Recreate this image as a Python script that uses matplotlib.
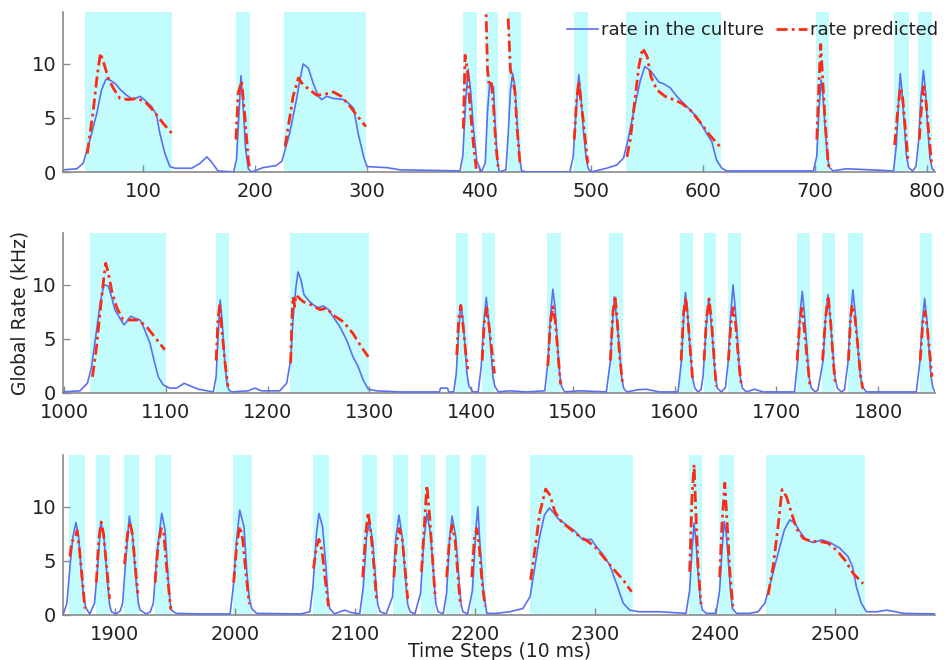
import numpy as np
import matplotlib
matplotlib.use("Agg")
import matplotlib.pyplot as plt
from matplotlib.lines import Line2D

plt.rcParams['font.family'] = ['DejaVu Sans']

# ---------------- data ----------------
# panel 1 (time steps 29 - 807)
p1_blue = [(29,0.2),(41,0.3),(46.6,0.8),(52.7,3.0),(58.7,5.4),(63,7.6),(67,8.6),(70.5,8.5),(75,8.2),(79.5,7.65),
 (85.4,7.1),(91,6.7),(97.3,7.0),(101,6.7),(107.7,6.05),(112,5.3),(115,3.6),(119.6,1.7),(124,0.5),(128.6,0.35),
 (143.5,0.35),(151,0.8),(157,1.4),(161,0.95),(167,0.1),
 (181,0.0),(183.5,1.2),(185.5,5.0),(187.5,8.9),(189.5,6.0),(191.5,2.2),(194,0.3),(197,0.0),
 (207,0.4),(219,0.6),(224,1.0),(231,3.6),(237,6.7),(240,8.5),(243,10.0),(247.6,9.6),(252,8.2),(256.5,7.0),
 (259.5,6.7),(264,7.0),(270,6.8),(279,6.7),(283,6.4),(288,5.9),(292,3.6),(297,1.4),(300,0.5),(318,0.4),
 (329.5,0.2),(383,0.1),
 (385.5,1.5),(388,6.5),(390.3,9.5),(392.5,7.5),(395,4.0),(398,1.0),(402,0.0),
 (405.5,0.8),(407.5,5.5),(409.5,8.3),(411,8.0),(412.8,7.9),(414.5,4.0),(416.5,1.0),(418,0.0),(424,0.2),
 (426,3.5),(428,7.5),(430,9.1),(432,7.9),(434,4.5),(436,1.5),(438,0.1),(443,0),
 (481,0),(484,1.4),(486.5,5.5),(489,9.0),(491,7.0),(493,4.0),(495.5,1.3),(497.6,0.3),(500,0),
 (514,0.35),(523,0.65),(529,1.3),(533,3.0),(539,6.05),(544,8.5),(548,9.75),(552.7,9.4),(557,8.8),(560.7,8.3),
 (564,8.2),(570.5,7.8),(576.5,7.0),(585.4,6.05),(594.4,5.1),(603,3.6),(607.8,2.8),(612,1.1),(616.7,0.35),(621,0.1),
 (698.5,0.1),(701.5,1.5),(703.5,6.0),(705.4,8.5),(707,7.0),(709,4.0),(711,1.3),(713,0.4),(716,0.1),(728,0.3),
 (770,0.1),(772.5,2.5),(774.5,6.5),(776,9.1),(777.5,7.5),(779.5,4.5),(781.5,1.5),(783.5,0.4),(787,0.1),
 (790,0.5),(792.5,3.0),(794.5,7.0),(796.7,9.4),(798.5,7.5),(800.5,4.0),(802.5,1.3),(804.5,0.3),(807,0.1)]

p1_red = [
 [(50.3,1.7),(55.6,5.7),(59,8.8),(62,11.0),(66,9.75),(69,8.7),(73.5,7.75),(79.5,6.8),(87,6.7),(94.4,6.8),(102,6.5),(109,5.7),(118,4.5),(125.6,3.6)],
 [(183,3.0),(185,7.3),(188,8.4),(191,5.1),(194,1.1),(195.5,0.2)],
 [(226.8,2.35),(229.7,4.2),(234,7.0),(238.7,8.7),(243,8.05),(249,7.6),(255,7.1),(262.5,7.2),(270,7.4),(277,7.0),(285,6.05),(292,5.1),(299,4.2)],
 [(386,4.0),(387.5,10.8),(389.5,9.5),(392,6.0),(395,2.5),(397.5,0.3)],
 [(406,16),(407.5,9.5),(409,8.0),(411,8.2),(413,6.0),(415,2.5),(417,0.5)],
 [(426,14.2),(428,9.5),(430,8.5),(432,7.5),(434,4.0),(436.5,0.8)],
 [(485,3.0),(487,6.5),(489,8.4),(491,6.5),(493,4.8),(497,0.8)],
 [(532,1.4),(535,3.0),(538,5.7),(542.6,9.75),(546,11.45),(550,10.7),(553.5,8.8),(558.7,7.6),(566,7.0),(573.5,6.7),(581,6.35),(588.4,5.75),(597,4.65),(606,3.4),(615,2.35)],
 [(701.5,3.0),(703.5,8.5),(705,11.8),(706.5,9.0),(709,4.5),(711.5,1.0),(712.5,0.3)],
 [(771,2.5),(774,6.0),(776,7.8),(778,7.0),(780.5,4.0),(783,1.0)],
 [(793,3.0),(795.5,7.0),(797,7.9),(799,6.5),(801.5,3.5),(804,0.7)]]

p1_spans = [(48,126),(183,195.5),(226,299),(386,398),(406,417),(426,437.5),(485,497),(531,616),(701,712.5),(770.5,784),(792,804.5)]

# panel 2 (time steps 999 - 1856)
p2_blue = [(999,0.1),(1015.7,0.2),(1023,0.9),(1027,2.4),(1032,5.8),(1036,8.6),(1039.3,10.0),(1043.5,9.9),(1047,8.8),
 (1050,7.7),(1055,6.9),(1059,6.3),(1061.6,6.6),(1065.5,7.1),(1070,6.9),(1074.7,6.75),(1078.6,6.0),(1084.5,4.6),
 (1088.4,3.05),(1092.6,1.5),(1097.5,0.75),(1104,0.45),(1110.7,0.45),(1118,0.9),(1125.4,0.6),(1132,0.35),(1146.7,0.1),
 (1149.5,1.5),(1151.5,5.5),(1153.5,8.6),(1155.5,6.5),(1157.5,3.5),(1160,1.0),(1162,0.3),(1164.5,0.1),
 (1181,0.2),(1187.6,0.45),(1194,0.2),(1212,0.2),(1218.8,0.9),(1222.7,3.05),(1225,6.75),(1228,9.85),(1230,11.2),
 (1232.8,10.5),(1235.8,9.1),(1240,8.6),(1245,8.15),(1249.8,7.9),(1254.7,8.05),(1259.6,7.75),(1264.5,7.05),(1271,6.15),
 (1277.7,4.9),(1284,3.35),(1289,2.45),(1294,1.2),(1299,0.35),(1307,0.2),(1330,0.1),(1369,0.1),(1370,0.45),(1377,0.45),
 (1378,0.1),(1383,0.1),
 (1385.5,1.8),(1388,6.0),(1390,8.15),(1392,6.8),(1394,4.5),(1396,1.8),(1398,0.6),(1402,0.1),
 (1407,0.1),(1410,2.4),(1412.5,6.5),(1415,8.85),(1417,7.0),(1419,4.5),(1421.5,1.5),(1423.5,0.6),(1427,0.1),(1438,0.2),
 (1454,0.1),(1472.5,0.2),
 (1475.7,3.0),(1478,7.0),(1480.4,9.6),(1482.5,8.0),(1484.6,5.0),(1487,1.8),(1489,0.6),(1492,0.1),(1507,0.2),(1533,0.1),
 (1537,3.0),(1539,6.5),(1541,8.9),(1543,7.0),(1545.5,4.5),(1548,1.5),(1550,0.45),(1553,0.1),(1564,0.3),(1572,0.35),
 (1585,0.1),(1603.5,0.1),
 (1606.8,3.0),(1609,7.0),(1610.7,9.3),(1612.5,7.8),(1615,4.5),(1617.5,1.5),(1620,0.45),(1623,0.1),
 (1626,0.3),(1628,1.5),(1631,6.0),(1633.6,8.7),(1635.5,7.0),(1637.8,4.5),(1640,1.6),(1642,0.45),(1646,0.1),
 (1650,0.5),(1652.6,2.75),(1655,7.0),(1657.5,10.0),(1659.5,8.0),(1661.8,5.0),(1664,1.8),(1666.7,0.45),(1670.6,0.1),
 (1678.7,0.35),(1687,0.1),(1718,0.1),
 (1721,3.0),(1723.5,7.5),(1725.6,9.4),(1727.5,7.5),(1729.5,5.0),(1732,1.6),(1734.4,0.45),(1738.6,0.1),
 (1741,0.3),(1746,3.0),(1748.5,7.0),(1750.8,9.1),(1753,7.0),(1755,4.5),(1757.5,1.6),(1760,0.45),(1764,0.1),
 (1767,0.3),(1770.4,2.75),(1773,7.0),(1775.3,9.55),(1777.5,7.5),(1779.6,5.0),(1782,2.0),(1784.5,0.6),(1788.5,0.1),
 (1837.6,0.1),(1841,2.75),(1843.5,6.5),(1845.8,8.75),(1847.8,7.0),(1849.7,4.5),(1852,1.6),(1854,0.45),(1856,0.1)]

p2_red = [
 [(1028,1.5),(1032,4.3),(1036,8.0),(1039.3,10.8),(1041,12.0),(1043.5,11.1),(1047,9.4),(1052,7.85),(1058,6.8),(1065,6.75),(1073,6.75),(1081,6.15),(1089,5.2),(1099,4.0)],
 [(1149.5,3.0),(1151.5,7.0),(1153,8.1),(1155,6.0),(1158,3.0),(1161,0.6)],
 [(1222.7,2.75),(1224,6.75),(1225,8.9),(1226.7,8.0),(1228,9.05),(1235,8.45),(1243,8.15),(1251.5,7.7),(1258,7.85),(1264.5,7.2),(1274.4,6.6),(1284,5.5),(1292,4.3),(1299,3.35)],
 [(1386,3.5),(1388,7.0),(1390,8.1),(1392.5,6.0),(1395,3.5),(1397,2.2)],
 [(1411,3.0),(1413,6.5),(1415.5,7.85),(1418,6.0),(1421,3.5),(1423,1.8)],
 [(1475.5,2.5),(1478,6.5),(1480.5,8.0),(1483,6.5),(1486,3.0),(1488,0.8)],
 [(1537,3.0),(1539.5,7.5),(1541.5,9.0),(1543.5,7.0),(1546,3.5),(1549,0.8)],
 [(1606.5,3.0),(1609,7.5),(1611,8.85),(1613,7.0),(1615.5,4.0),(1618,1.0)],
 [(1629,3.0),(1631.5,7.0),(1634,8.7),(1636.5,6.5),(1639,3.0),(1641,0.6)],
 [(1653,3.0),(1655.5,6.5),(1657.6,7.9),(1660,6.5),(1663,3.0),(1665.5,0.8)],
 [(1720.5,3.0),(1723,6.5),(1725,7.85),(1727.5,6.0),(1730.5,3.0),(1733,0.8)],
 [(1745.5,3.0),(1748.5,7.0),(1751,9.0),(1753.5,6.5),(1756,3.0),(1758,0.8)],
 [(1771,3.0),(1773,7.0),(1774.6,8.15),(1777,7.3),(1780,4.5),(1783,1.5),(1785,0.4)],
 [(1841.5,3.0),(1844,6.5),(1846,7.55),(1848.5,6.0),(1851,3.5),(1853,1.5)]]

p2_spans = [(1026,1100),(1149,1162),(1222,1300),(1385,1397),(1411,1423.5),(1475,1488),(1536,1549),(1605.7,1618),
 (1628.7,1640.5),(1652.6,1665.7),(1720,1733),(1745,1758),(1770.5,1785),(1841,1853)]

# panel 3 (time steps 1857 - 2584)
p3_blue = [(1857,0.1),(1860,1.1),(1862.5,4.5),(1865,7.25),(1867.5,8.55),(1869.7,7.25),(1872,3.85),(1874,1.5),(1876,0.6),(1879,0.1),
 (1883,1.1),(1885.6,4.5),(1888.3,8.65),(1891,6.95),(1893.6,3.25),(1895.5,1.0),(1897,0.3),(1901,0.1),
 (1904.5,0.4),(1906.4,1.1),(1909,5.1),(1912,9.15),(1914.7,7.25),(1917.5,3.25),(1919.5,1.1),(1921,0.45),(1926,0.1),
 (1929.5,0.3),(1932,1.1),(1935,5.7),(1939,9.4),(1941.7,7.9),(1944.4,3.25),(1946,1.2),(1947,0.45),(1951,0.15),(1970.8,0.1),(1996,0.1),
 (1998.6,2.6),(2001.4,6.95),(2004,9.7),(2007.5,8.2),(2010,3.85),(2012,1.5),(2014,0.6),(2018,0.15),(2055,0.1),(2062.5,0.3),
 (2065,2.6),(2068,7.55),(2070,9.4),(2073,8.2),(2075.8,4.5),(2077.5,1.8),(2079,0.6),(2083,0.1),(2087.5,0.3),(2091.7,0.45),(2096,0.25),(2104,0.1),
 (2107,2.6),(2109.7,7.25),(2112,8.5),(2114.7,6.95),(2117.5,2.9),(2119,1.0),(2121,0.3),(2126,0.1),
 (2131.4,1.7),(2134,6.95),(2136.7,9.25),(2139.4,7.25),(2142.5,2.9),(2144,1.0),(2146,0.3),(2150,0.1),
 (2154.7,2.0),(2157.5,6.95),(2160,9.4),(2163,7.55),(2166,3.25),(2167.5,1.0),(2169.4,0.3),(2173.6,0.1),
 (2176.4,2.0),(2179,7.25),(2181,9.15),(2184,7.25),(2187,2.9),(2188.5,1.0),(2190,0.3),(2194,0.1),
 (2198,2.3),(2201,8.2),(2202.5,10.0),(2204,6.95),(2207,2.3),(2210,0.15),(2218,0.15),(2229,0.3),(2240,0.6),
 (2246,1.7),(2250,4.5),(2254,7.25),(2258,9.25),(2262,9.9),(2265,9.55),(2269,8.95),(2276,8.35),(2283,7.8),(2290,6.95),
 (2297,7.0),(2301.4,6.3),(2307,5.55),(2312.5,4.6),(2318,2.9),(2323.6,1.1),(2329,0.45),(2337,0.3),(2354,0.3),(2376,0.15),
 (2379,2.3),(2381,6.0),(2382.7,8.5),(2384.5,6.5),(2386,3.85),(2388,1.3),(2389.7,0.45),(2393,0.15),(2401,0.15),
 (2404,2.3),(2406,6.0),(2407.8,8.65),(2409.5,7.5),(2411,5.4),(2413,2.3),(2414.7,0.6),(2418,0.15),(2429,0.15),(2436,0.3),
 (2441.7,1.1),(2447,3.25),(2452.7,5.7),(2458,7.9),(2462.5,8.8),(2466.7,8.5),(2471,7.7),(2476,6.95),(2482,6.7),(2489,6.95),
 (2496,6.7),(2504,6.2),(2511,5.4),(2514.7,4.5),(2518,2.6),(2522,1.1),(2526.4,0.3),(2535,0.3),(2543,0.45),(2548.6,0.35),
 (2557,0.15),(2584.7,0.1)]

p3_red = [
 [(1862.5,5.4),(1864,6.8),(1867,7.2),(1868.5,7.8),(1870.5,6.0),(1873,3.0),(1875,0.6)],
 [(1884.5,3.0),(1886.5,7.0),(1888.5,8.6),(1890.5,7.5),(1893,4.5),(1895.5,1.5)],
 [(1908,4.7),(1910.5,7.5),(1912.5,8.6),(1914.5,7.5),(1916.5,5.0),(1919,2.0)],
 [(1933.5,3.0),(1936,6.5),(1938.5,8.0),(1940.5,7.8),(1943,4.5),(1946.5,0.5)],
 [(1999,3.0),(2001.5,6.5),(2004,8.2),(2006.5,7.0),(2009,4.0),(2012,1.0)],
 [(2065.5,4.3),(2068,6.3),(2070,7.0),(2072.5,6.0),(2075,3.5),(2078,0.8)],
 [(2106.5,3.5),(2109,7.5),(2111,9.5),(2113,8.0),(2115.5,5.0),(2118,1.5)],
 [(2132.5,3.5),(2134.5,6.5),(2137,8.0),(2139.5,7.0),(2142,4.0),(2144,1.5)],
 [(2155.5,4.0),(2158,8.5),(2160,12.0),(2162,9.5),(2164.5,5.5),(2167,1.5)],
 [(2176.5,3.5),(2178.5,6.5),(2181,8.3),(2183.5,7.0),(2186,3.5),(2188,0.8)],
 [(2197.5,3.5),(2199.5,7.0),(2201.5,8.0),(2203.5,6.5),(2206,3.0),(2208.5,0.8)],
 [(2246.4,3.25),(2250,6.0),(2254,9.4),(2259,11.65),(2262.5,11.1),(2266.7,9.55),(2272,8.65),(2279,8.0),(2287.5,7.25),(2294.4,6.8),(2301.4,6.15),(2308,5.25),(2315,4.3),(2323.6,3.25),(2330.6,2.15)],
 [(2379,4.0),(2381,11.0),(2382.7,13.9),(2384,10.0),(2386,4.5),(2388.5,1.0)],
 [(2404,3.5),(2406,8.5),(2408.3,12.2),(2410,9.0),(2412.5,4.0),(2415,0.8)],
 [(2444.4,1.85),(2448.6,4.5),(2452.7,8.2),(2456,11.6),(2459.7,10.95),(2464,9.4),(2468,8.0),(2473.6,7.1),(2480.6,6.8),(2487.5,6.8),(2494.4,6.65),(2501.4,6.0),(2508.3,5.1),(2515.3,3.85),(2523.6,2.9)]]

p3_spans = [(1862,1875),(1884,1896),(1907.8,1920),(1933,1947),(1998,2014),(2065,2078.6),(2106,2118.6),(2132,2144.4),
 (2155,2167),(2176,2188),(2197,2209),(2246,2332),(2378.6,2389.7),(2403.6,2416),(2443,2525)]

p1_xticks = [100, 200, 300, 400, 500, 600, 700, 800]
p2_xticks = [1000, 1100, 1200, 1300, 1400, 1500, 1600, 1700, 1800]
p3_xticks = [1900, 2000, 2100, 2200, 2300, 2400, 2500]
yticks = [0, 5, 10]

legend_labels = ["rate in the culture", "rate predicted"]
ylabel_text = "Global Rate (kHz)"
xlabel_text = "Time Steps (10 ms)"

# ---------------- style ----------------
BLUE = '#5a70f2'
RED = '#ff2a14'
CYAN = '#c2fcfc'
GRAY = '#8a8a8a'
TXT = '#222222'
DASH = (0, (4, 1.5, 1, 1.5))

W, H = 945, 660
fig = plt.figure(figsize=(W / 100, H / 100), dpi=100)

panels = [
    (p1_blue, p1_red, p1_spans, p1_xticks, (28.6, 807), 12, 172),
    (p2_blue, p2_red, p2_spans, p2_xticks, (999, 1856), 233, 393),
    (p3_blue, p3_red, p3_spans, p3_xticks, (1856.7, 2583.5), 455, 615),
]

axes = []
for blue, red, spans, xt, xl, top, bot in panels:
    ax = fig.add_axes([63 / W, 1 - bot / H, 872 / W, (bot - top) / H])
    for a, b in spans:
        ax.axvspan(a, b, color=CYAN, lw=0, zorder=1)
    bx, by = zip(*blue)
    ax.plot(bx, by, color=BLUE, lw=1.2, zorder=4)
    for seg in red:
        rx, ry = zip(*seg)
        ax.plot(rx, ry, color=RED, lw=2.0, ls=DASH, zorder=5)
    ax.set_xlim(*xl)
    ax.set_ylim(0, 14.8)
    ax.set_xticks(xt)
    ax.set_yticks(yticks)
    for s in ['top', 'right']:
        ax.spines[s].set_visible(False)
    for s in ['left', 'bottom']:
        ax.spines[s].set_color(GRAY)
        ax.spines[s].set_linewidth(1.2)
    ax.tick_params(axis='both', direction='in', length=5, width=1, color=GRAY,
                   labelcolor=TXT, labelsize=14)
    ax.tick_params(axis='x', pad=7)
    ax.tick_params(axis='y', pad=5)
    ax.set_facecolor('none')
    axes.append(ax)

fig.text(20 / W, 1 - 313 / H, ylabel_text, rotation=90, ha='center', va='center',
         fontsize=13.5, color=TXT)
fig.text(500 / W, 1 - 642 / H, xlabel_text, ha='center', va='top',
         fontsize=13.5, color=TXT)

handles = [Line2D([], [], color=BLUE, lw=1.2),
           Line2D([], [], color=RED, lw=2.0, ls=DASH)]
fig.legend(handles, legend_labels, loc='center right', bbox_to_anchor=(938 / W, 1 - 30 / H),
           ncol=2, frameon=False, fontsize=13, handlelength=1.7, handletextpad=0.15,
           columnspacing=0.7, labelcolor=TXT, borderaxespad=0, borderpad=0)

fig.savefig('out.png', dpi=100)
